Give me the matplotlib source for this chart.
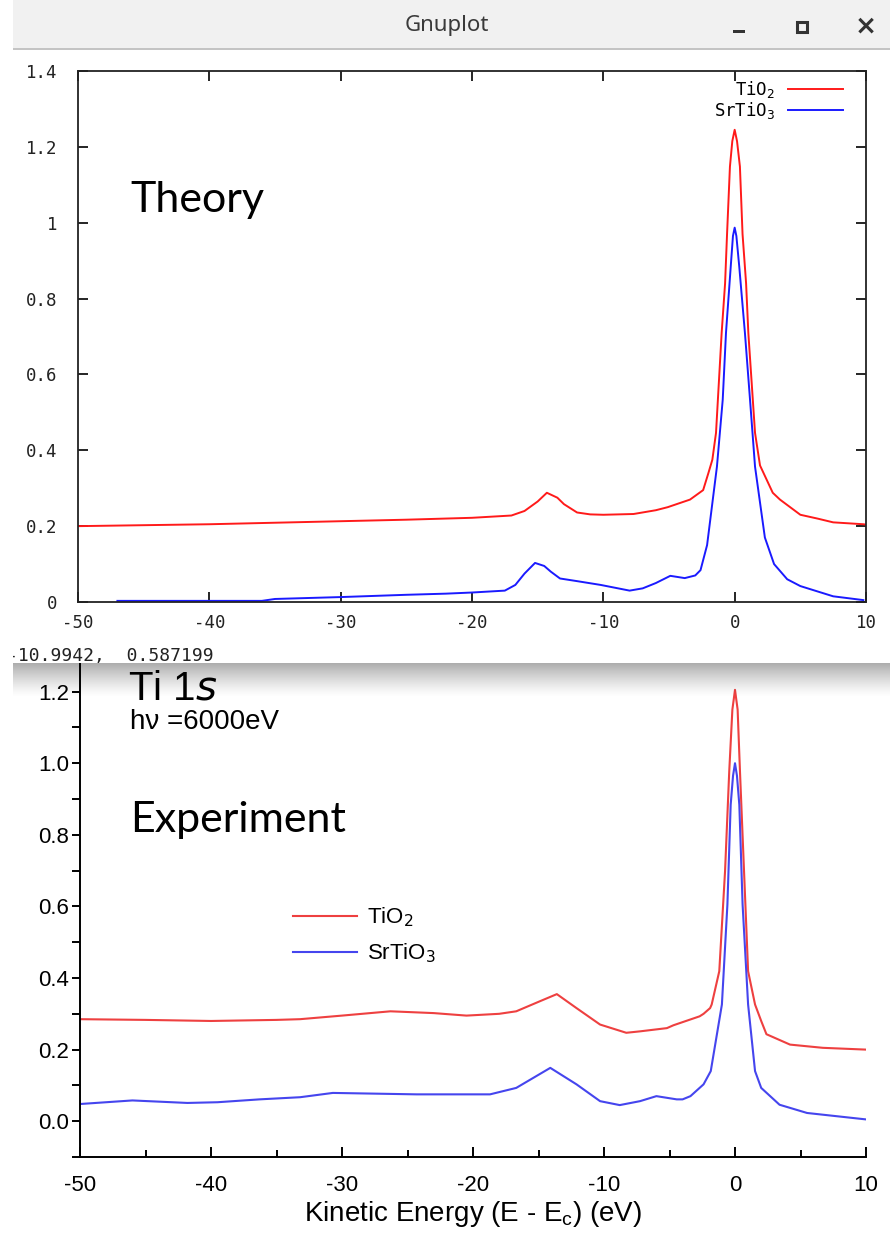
#Ti 1s: espectro teorico (gnuplot) sobre el experimental, TiO2 vs SrTiO3

import numpy as np
import matplotlib.pyplot as plt
from matplotlib.patches import Rectangle
from matplotlib.ticker import MultipleLocator, FuncFormatter
from matplotlib.transforms import Bbox, TransformedBbox

plt.rcParams['axes.unicode_minus'] = False

#teoria - TiO2
th_tio2_x = [-50, -40, -30, -25, -20, -17, -16, -15, -14.3, -13.5, -13, -12, -11, -10,
             -7.7, -6, -5.1, -3.4, -2.4, -2.0, -1.7, -1.42, -0.99, -0.73, -0.58, -0.36,
             -0.18, 0, 0.18, 0.4, 0.6, 0.87, 1.04, 1.55, 1.93, 2.9, 3.45, 5.0, 6.3, 7.5,
             9.8, 10]
th_tio2_y = [0.200, 0.205, 0.213, 0.217, 0.222, 0.228, 0.240, 0.265, 0.288, 0.275, 0.258,
             0.236, 0.231, 0.230, 0.232, 0.242, 0.250, 0.270, 0.295, 0.340, 0.375, 0.446,
             0.71, 0.84, 0.97, 1.148, 1.215, 1.245, 1.215, 1.148, 0.97, 0.84, 0.71, 0.446,
             0.36, 0.288, 0.27, 0.23, 0.22, 0.21, 0.205, 0.204]

#teoria - SrTiO3
th_sto_x = [-47, -36, -35, -30, -25, -22, -20, -17.5, -16.7, -16, -15.2, -14.5, -14, -13.3,
            -12, -10.2, -8.0, -7, -6, -4.9, -3.8, -3.0, -2.6, -2.1, -1.35, -0.91, -0.66,
            -0.3, -0.13, 0, 0.13, 0.35, 0.78, 1.17, 1.55, 2.3, 3.0, 4.0, 5.0, 7.5, 9.8]
th_sto_y = [0.003, 0.003, 0.008, 0.013, 0.019, 0.022, 0.025, 0.030, 0.045, 0.075, 0.103,
            0.095, 0.080, 0.062, 0.055, 0.045, 0.030, 0.036, 0.050, 0.069, 0.063, 0.070,
            0.084, 0.150, 0.357, 0.533, 0.71, 0.884, 0.965, 0.987, 0.965, 0.884, 0.71,
            0.533, 0.357, 0.17, 0.10, 0.06, 0.042, 0.015, 0.005]

#experimento - TiO2
ex_tio2_x = [-50, -45, -40, -35, -33.2, -30, -26.3, -23, -20.5, -18, -16.7, -14.9, -13.6,
             -12.1, -10.3, -8.3, -7.25, -5.2, -4.7, -2.7, -2.4, -1.9, -1.78, -1.2, -0.76,
             -0.44, -0.2, 0, 0.2, 0.38, 0.69, 1.0, 1.53, 2.0, 2.4, 4.2, 6.7, 10]
ex_tio2_y = [0.285, 0.283, 0.280, 0.283, 0.285, 0.295, 0.307, 0.302, 0.295, 0.300, 0.307,
             0.335, 0.355, 0.316, 0.270, 0.247, 0.251, 0.260, 0.268, 0.293, 0.300, 0.316,
             0.326, 0.419, 0.698, 0.977, 1.15, 1.205, 1.15, 0.977, 0.698, 0.419, 0.326,
             0.28, 0.243, 0.214, 0.205, 0.200]

#experimento - SrTiO3
ex_sto_x = [-50, -46, -41.8, -39.5, -36.3, -33.2, -30.7, -24.3, -18.7, -16.7, -14.1, -12.1,
            -10.3, -8.8, -7.25, -6.0, -4.45, -4.0, -3.4, -2.4, -1.85, -1.0, -0.58, -0.33,
            -0.15, 0, 0.15, 0.33, 0.58, 1.0, 1.53, 2.0, 3.4, 5.5, 10]
ex_sto_y = [0.048, 0.058, 0.051, 0.053, 0.061, 0.067, 0.079, 0.075, 0.075, 0.093, 0.149,
            0.103, 0.056, 0.045, 0.056, 0.070, 0.061, 0.061, 0.070, 0.103, 0.140, 0.326,
            0.605, 0.884, 0.965, 1.000, 0.965, 0.884, 0.605, 0.326, 0.140, 0.093, 0.046,
            0.023, 0.005]

W, H = 890, 1236
fig = plt.figure(figsize=(W/100, H/100), dpi=100)

def px(x, y):
    return x/W, 1 - y/H

mono = 'DejaVu Sans Mono'
sans = 'Liberation Sans'

#grafica experimental (abajo)
ax2 = fig.add_axes([80/W, 1-1157/H, 786/W, 494/H])
ax2.plot(ex_tio2_x, ex_tio2_y, color='#ee4040', lw=1.5, label=r'TiO$_2$')
ax2.plot(ex_sto_x, ex_sto_y, color='#4545ee', lw=1.5, label=r'SrTiO$_3$')
ax2.set_xlim(-50, 10)
ax2.set_ylim(-0.1, 1.28)
ax2.spines['top'].set_visible(False)
ax2.spines['right'].set_visible(False)
for s in ('left', 'bottom'):
    ax2.spines[s].set_linewidth(1.4)
ax2.xaxis.set_major_locator(MultipleLocator(10))
ax2.xaxis.set_minor_locator(MultipleLocator(5))
ax2.yaxis.set_major_locator(MultipleLocator(0.2))
ax2.yaxis.set_minor_locator(MultipleLocator(0.1))
ax2.yaxis.set_major_formatter(FuncFormatter(lambda v, p: '%.1f' % v if v > -0.05 else ''))
ax2.tick_params(axis='x', which='both', direction='in', width=1.4, pad=13)
ax2.tick_params(axis='x', which='major', length=7)
ax2.tick_params(axis='x', which='minor', length=5)
ax2.tick_params(axis='y', which='both', direction='out', length=6, width=1.4, pad=2)
for lab in ax2.get_xticklabels() + ax2.get_yticklabels():
    lab.set_fontfamily(sans)
    lab.set_fontsize(16)
ax2.set_xlabel(r'Kinetic Energy (E - E$_\mathregular{c}$) (eV)', fontfamily=sans,
               fontsize=20, labelpad=2)
ax2.legend(loc='upper left', bbox_to_anchor=(0.271, 0.509), frameon=False,
           prop={'family': sans, 'size': 16}, handlelength=2.9,
           handletextpad=0.45, labelspacing=0.55, borderpad=0, borderaxespad=0)

#ventana de gnuplot encima
win_x0, win_y1 = 13, 663
fig.patches.append(Rectangle(px(win_x0, win_y1), 1 - win_x0/W, win_y1/H,
                             transform=fig.transFigure, facecolor='white',
                             edgecolor='none', zorder=1))
fig.patches.append(Rectangle(px(win_x0, 48), 1 - win_x0/W, 48/H,
                             transform=fig.transFigure, facecolor='#f1f1f1',
                             edgecolor='none', zorder=2))
fig.patches.append(Rectangle(px(win_x0, 50), 1 - win_x0/W, 2/H,
                             transform=fig.transFigure, facecolor='#c4c4c4',
                             edgecolor='none', zorder=2))
fig.text(*px(447, 26), 'Gnuplot', ha='center', va='center', fontsize=16,
         fontfamily='Noto Sans', fontweight='medium', color='#3a3a3a', zorder=3)
fig.patches.append(Rectangle(px(733, 33), 12/W, 3/H, transform=fig.transFigure,
                             facecolor='#333333', edgecolor='none', zorder=3))
fig.patches.append(Rectangle(px(797, 32), 10/W, 10/H, transform=fig.transFigure,
                             facecolor='none', edgecolor='#333333', lw=2.2, zorder=3))
fig.text(*px(866, 27), '×', ha='center', va='center', fontsize=19,
         fontweight='bold', fontfamily='DejaVu Sans', color='#333333', zorder=3)

#sombra de la ventana
sh = fig.add_axes([win_x0/W, 1-698/H, 1-win_x0/W, 35/H])
grad = np.zeros((40, 2, 4))
grad[:, :, 3] = np.linspace(0.42, 0.0, 40)[:, None]**1.3
sh.imshow(grad, aspect='auto', interpolation='bilinear')
sh.set_axis_off()
sh.set_zorder(5)

st = fig.text(*px(7, 656), '-10.9942,  0.587199', ha='left', va='center',
              fontsize=13, fontfamily=mono, color='#222222', zorder=3)
st.set_clip_box(TransformedBbox(Bbox([[win_x0/W, 0], [1, 1]]), fig.transFigure))
st.set_clip_on(True)

#grafica teorica (arriba)
ax1 = fig.add_axes([78/W, 1-602/H, 788/W, 531/H])
ax1.set_zorder(4)
ax1.plot(th_tio2_x, th_tio2_y, color='#ff1a1a', lw=1.4, label=r'TiO$_2$')
ax1.plot(th_sto_x, th_sto_y, color='#1a1aff', lw=1.4, label=r'SrTiO$_3$')
ax1.set_xlim(-50, 10)
ax1.set_ylim(0, 1.4)
for s in ax1.spines.values():
    s.set_linewidth(1.3)
    s.set_color('#222222')
ax1.xaxis.set_major_locator(MultipleLocator(10))
ax1.yaxis.set_major_locator(MultipleLocator(0.2))
ax1.xaxis.set_major_formatter(FuncFormatter(lambda v, p: '%g' % v))
ax1.yaxis.set_major_formatter(FuncFormatter(lambda v, p: '%g' % round(v, 2)))
ax1.tick_params(direction='in', top=True, right=True, length=7, width=1.2)
ax1.tick_params(axis='y', pad=15)
ax1.tick_params(axis='x', pad=9)
for lab in ax1.get_xticklabels() + ax1.get_yticklabels():
    lab.set_fontfamily(mono)
    lab.set_fontsize(12.5)
    lab.set_color('#222222')
ax1.legend(loc='upper right', bbox_to_anchor=(0.971, 0.985), frameon=False,
           markerfirst=False, prop={'family': mono, 'size': 12.5}, handlelength=3.2,
           handletextpad=0.7, labelspacing=0.0, borderpad=0, borderaxespad=0)

#rotulos
fig.text(*px(130, 200), 'Theory', ha='left', va='center', fontsize=31,
         fontfamily='Lato', color='black', zorder=6)
fig.text(*px(128, 688), r'Ti 1$\mathit{s}$', ha='left', va='center', fontsize=29,
         fontfamily=sans, color='black', zorder=6)
fig.text(*px(130, 722), 'hν =6000eV', ha='left', va='center', fontsize=20,
         fontfamily=sans, color='black', zorder=6)
fig.text(*px(130, 820), 'Experiment', ha='left', va='center', fontsize=31,
         fontfamily='Lato', color='black', zorder=6)

fig.savefig('out.png', dpi=100)
